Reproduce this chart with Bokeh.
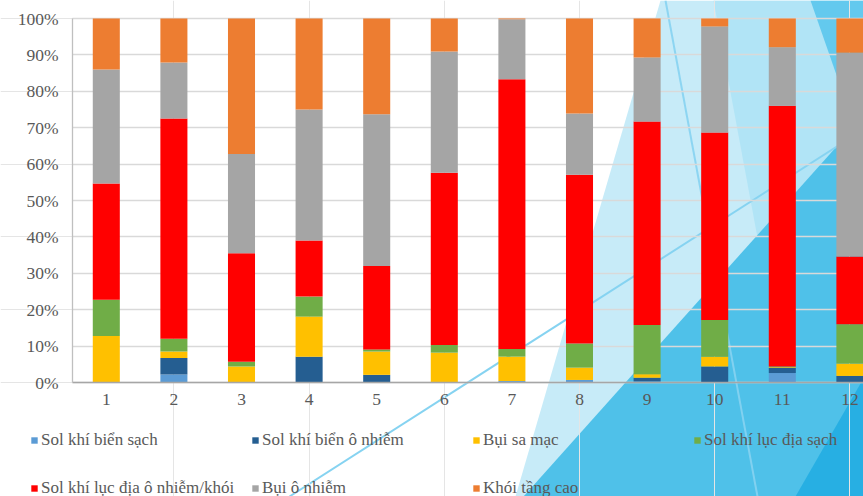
from bokeh.plotting import figure
from bokeh.models import (Range1d, FixedTicker, PrintfTickFormatter, Legend,
                          LegendItem, ColumnDataSource, LinearAxis, Grid)
from bokeh.embed import file_html
from bokeh.resources import INLINE

# ---- data: aerosol type shares (%) per month ----
months = [1, 2, 3, 4, 5, 6, 7, 8, 9, 10, 11, 12]
month_labels = [str(m) for m in months]

series_names = [
    "Sol khí biển sạch",
    "Sol khí biển ô nhiễm",
    "Bụi sa mạc",
    "Sol khí lục địa sạch",
    "Sol khí lục địa ô nhiễm/khói",
    "Bụi ô nhiễm",
    "Khói tầng cao",
]
sea_clean = [0.0, 2.2, 0.0, 0.0, 0.0, 0.0, 0.4, 0.7, 0.3, 0.0, 2.6, 0.0]
sea_polluted = [0.0, 4.5, 0.0, 7.1, 2.1, 0.0, 0.0, 0.0, 1.0, 4.4, 1.4, 1.8]
desert_dust = [12.8, 1.8, 4.4, 11.0, 6.4, 8.2, 6.7, 3.4, 1.0, 2.7, 0.2, 3.4]
continental_clean = [9.9, 3.5, 1.3, 5.5, 0.6, 2.1, 2.1, 6.6, 13.5, 10.1, 0.2, 10.8]
continental_polluted = [32.0, 60.5, 29.8, 15.4, 22.9, 47.3, 74.1, 46.4, 55.9, 51.5, 71.6, 18.6]
polluted_dust = [31.3, 15.4, 27.3, 36.0, 41.7, 33.3, 16.5, 16.8, 17.6, 29.1, 16.1, 56.0]
elevated_smoke = [14.0, 12.1, 37.2, 25.0, 26.3, 9.1, 0.2, 26.1, 10.7, 2.2, 7.9, 9.4]

y_ticks = list(range(0, 101, 10))

colors = ["#5B9BD5", "#255E91", "#FFC000", "#70AD47", "#FF0000", "#A5A5A5", "#ED7D31"]

# ---- layout (canvas pixels) ----
W, H = 863, 496
PLOT_LEFT = 72            # x of the value axis
Y0_PX, Y100_PX = 382, 18  # canvas rows of 0 % and 100 %
CAT_STEP = 67.6           # pixels per month
FONT = "Liberation Serif"
TEXT_COLOR = "#595959"

# the frame fills the whole canvas; axes are pinned inside it
px_per_pct = (Y0_PX - Y100_PX) / 100.0
x_start = 0.5 - PLOT_LEFT / CAT_STEP
x_end = x_start + W / CAT_STEP
y_start = -(H - Y0_PX) / px_per_pct
y_end = 100 + Y100_PX / px_per_pct

p = figure(width=W, height=H, x_range=Range1d(x_start, x_end),
           y_range=Range1d(y_start, y_end),
           x_axis_location=None, y_axis_location=None,
           toolbar_location=None, output_backend="svg",
           min_border=0)
p.outline_line_color = None
p.background_fill_color = "white"
p.border_fill_color = "white"

# ---- slide background artwork, in canvas pixels ----
p.extra_x_ranges = {"px": Range1d(0, W)}
p.extra_y_ranges = {"px": Range1d(H, 0)}
backdrop = [
    ([660, 863, 863, 515], [0, 0, 496, 496], "#C7EBF8"),
    ([713, 863, 863, 805], [0, 0, 496, 496], "#B1E4F6"),
    ([810, 863, 863], [0, 0, 152], "#63C9EE"),
    ([523, 863, 863], [496, 116, 496], "#4FC1E9"),
    ([795, 863, 863], [496, 378, 496], "#27AFE3"),
]
for xs, ys, col in backdrop:
    p.patch(xs, ys, fill_color=col, line_color=None,
            x_range_name="px", y_range_name="px", level="image")
p.line([665, 757], [0, 496], line_color="#86D3F1", line_width=2, line_alpha=0.9,
       x_range_name="px", y_range_name="px", level="image")
p.line([289, 863], [496, 129], line_color="#86D3F1", line_width=2,
       x_range_name="px", y_range_name="px", level="image")

# ---- gridlines and axes ----
grid = Grid(dimension=1, ticker=FixedTicker(ticks=y_ticks),
            cross_bounds=(0.5, x_end),
            grid_line_color="#D9D9D9", grid_line_width=1.3)
p.add_layout(grid, "center")

yaxis = LinearAxis(ticker=FixedTicker(ticks=y_ticks),
                   formatter=PrintfTickFormatter(format="%d%%"),
                   fixed_location=0.5, bounds=(0, 100))
yaxis.axis_line_color = "#BFBFBF"
yaxis.axis_line_width = 1.3
yaxis.major_tick_line_color = None
yaxis.minor_tick_line_color = None
yaxis.major_tick_out = 0
yaxis.major_tick_in = 0
yaxis.major_label_standoff = 14
yaxis.major_label_text_font = FONT
yaxis.major_label_text_font_size = "17.5px"
yaxis.major_label_text_color = TEXT_COLOR
p.add_layout(yaxis, "left")

xaxis = LinearAxis(ticker=FixedTicker(ticks=months),
                   major_label_overrides={m: s for m, s in zip(months, month_labels)},
                   fixed_location=0, bounds=(0.5, 12.5))
xaxis.axis_line_color = "#A6A6A6"
xaxis.axis_line_width = 1.5
xaxis.major_tick_line_color = None
xaxis.minor_tick_line_color = None
xaxis.major_tick_out = 0
xaxis.major_tick_in = 0
xaxis.major_label_standoff = 11
xaxis.major_label_text_font = FONT
xaxis.major_label_text_font_size = "17.5px"
xaxis.major_label_text_color = TEXT_COLOR
p.add_layout(xaxis, "below")

# ---- stacked bars ----
keys = ["sea_clean", "sea_polluted", "desert_dust", "continental_clean",
        "continental_polluted", "polluted_dust", "elevated_smoke"]
source = ColumnDataSource(data=dict(
    month=months,
    sea_clean=sea_clean, sea_polluted=sea_polluted, desert_dust=desert_dust,
    continental_clean=continental_clean, continental_polluted=continental_polluted,
    polluted_dust=polluted_dust, elevated_smoke=elevated_smoke,
))
renderers = p.vbar_stack(keys, x="month", width=0.4, color=colors,
                         line_color=None, source=source)

# ---- legend: two rows, four columns ----
items = [LegendItem(label=n, renderers=[r]) for n, r in zip(series_names, renderers)]
common = dict(orientation="horizontal", background_fill_alpha=0,
              border_line_color=None, padding=0, margin=0, spacing=0,
              glyph_width=8, glyph_height=8, label_standoff=3,
              label_width=210, label_height=18,
              label_text_font=FONT, label_text_font_size="17px",
              label_text_color=TEXT_COLOR)
legend_top = Legend(items=items[:4], location=(30, H - 441 - 9), **common)
legend_bottom = Legend(items=items[4:], location=(30, H - 489 - 9), **common)
p.add_layout(legend_top, "center")
p.add_layout(legend_bottom, "center")

open("out.html", "w").write(file_html(p, INLINE))
